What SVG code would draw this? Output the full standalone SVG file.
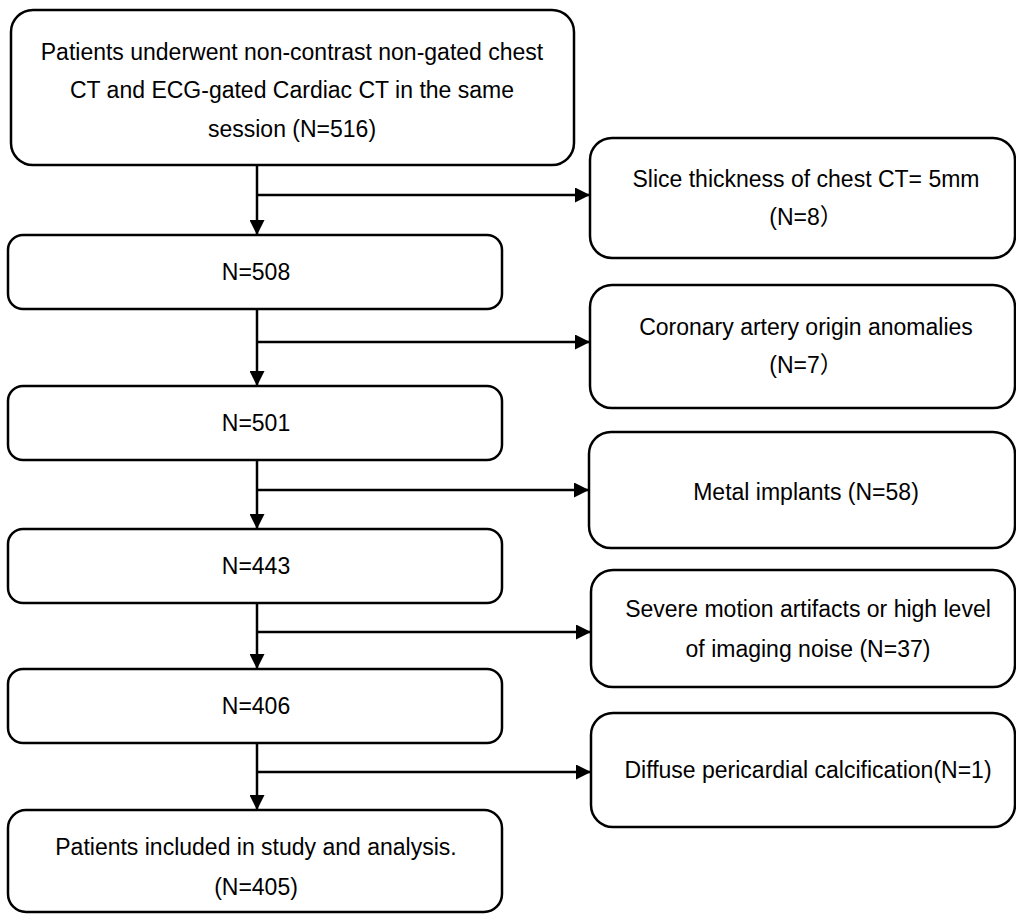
<svg xmlns="http://www.w3.org/2000/svg" width="1016" height="915" viewBox="0 0 1016 915">
<style>
.box{fill:#fff;stroke:#000;stroke-width:2.5}
.t{font-family:"Liberation Sans","Noto Sans CJK SC",Arial,sans-serif;font-size:23px;fill:#000;text-anchor:middle}
.c{fill:none;stroke:#000;stroke-width:2.5}
</style>
<defs>
<marker id="ah" viewBox="0 0 15 15" refX="15" refY="7.5" markerWidth="15" markerHeight="15" markerUnits="userSpaceOnUse" orient="auto">
<path d="M0,0 L15,7.5 L0,15 Z" fill="#000"/>
</marker>
</defs>
<rect width="1016" height="915" fill="#fff"/>
<g id="connectors">
<path class="c" d="M257,165 V235" marker-end="url(#ah)"/>
<path class="c" d="M257,195 H590" marker-end="url(#ah)"/>
<path class="c" d="M257,309 V386" marker-end="url(#ah)"/>
<path class="c" d="M257,342 H590" marker-end="url(#ah)"/>
<path class="c" d="M257,460 V529" marker-end="url(#ah)"/>
<path class="c" d="M257,490 H589" marker-end="url(#ah)"/>
<path class="c" d="M257,603 V669" marker-end="url(#ah)"/>
<path class="c" d="M257,632 H591" marker-end="url(#ah)"/>
<path class="c" d="M257,743 V810" marker-end="url(#ah)"/>
<path class="c" d="M257,772 H591" marker-end="url(#ah)"/>
</g>
<g id="n516">
<rect class="box" x="11" y="10" width="563" height="155" rx="22"/>
<text class="t" x="292" y="60">Patients underwent non-contrast non-gated chest</text>
<text class="t" x="292" y="98">CT and ECG-gated Cardiac CT in the same</text>
<text class="t" x="292" y="137">session (N=516)</text>
</g>
<g id="n508">
<rect class="box" x="8" y="235" width="494" height="74" rx="15"/>
<text class="t" x="256" y="280">N=508</text>
</g>
<g id="n501">
<rect class="box" x="8" y="386" width="494" height="74" rx="15"/>
<text class="t" x="256" y="431">N=501</text>
</g>
<g id="n443">
<rect class="box" x="8" y="529" width="494" height="74" rx="15"/>
<text class="t" x="256" y="574">N=443</text>
</g>
<g id="n406">
<rect class="box" x="8" y="669" width="494" height="74" rx="15"/>
<text class="t" x="256" y="714">N=406</text>
</g>
<g id="n405">
<rect class="box" x="8" y="810" width="494" height="102" rx="18"/>
<text class="t" x="256" y="855">Patients included in study and analysis.</text>
<text class="t" x="256" y="895">(N=405)</text>
</g>
<g id="ex1">
<rect class="box" x="590" y="138" width="425" height="120" rx="22"/>
<text class="t" x="806" y="187">Slice thickness of chest CT= 5mm</text>
<text class="t" x="806" y="225">(N=8）</text>
</g>
<g id="ex2">
<rect class="box" x="590" y="285" width="425" height="123" rx="22"/>
<text class="t" x="806" y="335">Coronary artery origin anomalies</text>
<text class="t" x="806" y="373">(N=7）</text>
</g>
<g id="ex3">
<rect class="box" x="589" y="432" width="426" height="116" rx="22"/>
<text class="t" x="806" y="500">Metal implants (N=58)</text>
</g>
<g id="ex4">
<rect class="box" x="591" y="570" width="424" height="117" rx="22"/>
<text class="t" x="808" y="617">Severe motion artifacts or high level</text>
<text class="t" x="808" y="657">of imaging noise (N=37)</text>
</g>
<g id="ex5">
<rect class="box" x="591" y="713" width="424" height="114" rx="22"/>
<text class="t" x="808" y="778">Diffuse pericardial calcification(N=1)</text>
</g>
</svg>
